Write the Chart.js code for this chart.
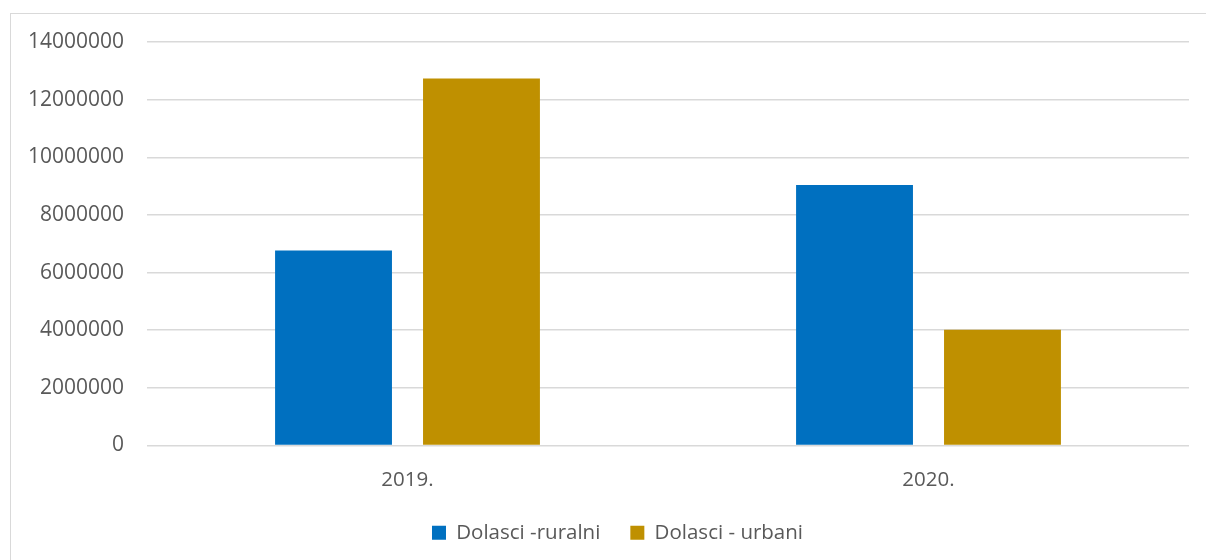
<!DOCTYPE html>
<html>
<head>
<meta charset="utf-8">
<script src="https://cdn.jsdelivr.net/npm/chart.js@4.4.0/dist/chart.umd.min.js"></script>
<style>
  html, body { margin: 0; padding: 0; background: #fff; }
  #wrap { width: 1206px; height: 560px; position: relative; }
</style>
</head>
<body>
<div id="wrap"><canvas id="chart" width="1206" height="560"></canvas></div>
<script>
// podaci
const godine = ['2019.', '2020.'];
const ruralni = [6770000, 9040000];
const urbani = [12730000, 4020000];
const yTicks = [0, 2000000, 4000000, 6000000, 8000000, 10000000, 12000000, 14000000];

// okvir oko grafikona + pomak legende udesno
const okvir = {
  id: 'okvir',
  afterLayout(chart) {
    chart.legend.left += 23;
    chart.legend.right += 23;
  },
  beforeDraw(chart) {
    const ctx = chart.ctx;
    ctx.save();
    ctx.strokeStyle = '#d9d9d9';
    ctx.lineWidth = 1;
    ctx.strokeRect(10.5, 13.5, 1400, 800);
    ctx.restore();
  }
};

Chart.defaults.font.family = '"Open Sans", sans-serif';
Chart.defaults.font.size = 20.5;
Chart.defaults.color = '#595959';

new Chart(document.getElementById('chart'), {
  type: 'bar',
  data: {
    labels: godine,
    datasets: [{
      label: 'Dolasci -ruralni',
      data: ruralni,
      backgroundColor: '#0070C0',
      categoryPercentage: 0.568,
      barPercentage: 0.79,
    }, {
      label: 'Dolasci - urbani',
      data: urbani,
      backgroundColor: '#BF9000',
      categoryPercentage: 0.568,
      barPercentage: 0.79,
    }],
  },
  options: {
    responsive: false,
    animation: false,
    layout: { padding: { top: 42, right: 17, bottom: 7, left: 0 } },
    plugins: {
      legend: {
        position: 'bottom',
        labels: { boxWidth: 14, boxHeight: 14, padding: 30 },
      },
      tooltip: { enabled: false },
    },
    scales: {
      x: {
        grid: { display: false, drawTicks: false },
        border: { display: false },
        ticks: { padding: 22 },
        afterFit(scale) { scale.height = 47; },
      },
      y: {
        min: 0,
        max: 14000000,
        afterBuildTicks(scale) { scale.ticks = yTicks.map(v => ({ value: v })); },
        grid: { color: '#d9d9d9', lineWidth: 1.5, drawTicks: false },
        border: { display: false },
        ticks: { padding: 23, font: { size: 21 }, callback: v => String(v) },
        afterFit(scale) { scale.width = 147; },
      },
    },
  },
  plugins: [okvir],
});
</script>
</body>
</html>
